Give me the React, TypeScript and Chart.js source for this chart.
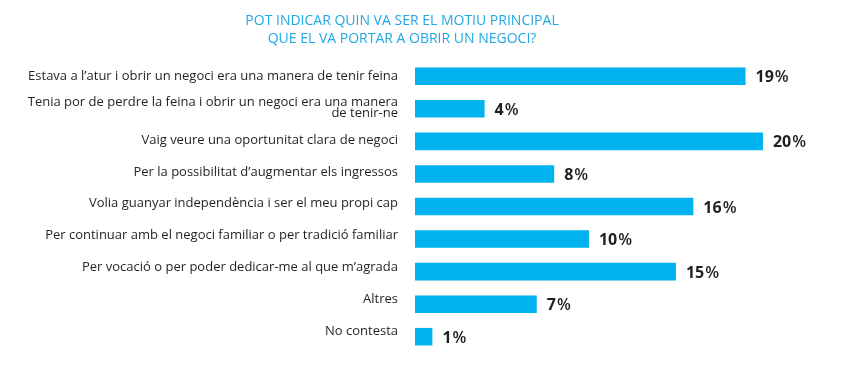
import React, { useEffect, useRef } from 'react';
import { Chart, registerables } from 'chart.js';

Chart.register(...registerables);

const titleLines: string[] = [
  'POT INDICAR QUIN VA SER EL MOTIU PRINCIPAL',
  'QUE EL VA PORTAR A OBRIR UN NEGOCI?',
];

const categories: (string | string[])[] = [
  'Estava a l’atur i obrir un negoci era una manera de tenir feina',
  ['Tenia por de perdre la feina i obrir un negoci era una manera', 'de tenir-ne'],
  'Vaig veure una oportunitat clara de negoci',
  'Per la possibilitat d’augmentar els ingressos',
  'Volia guanyar independència i ser el meu propi cap',
  'Per continuar amb el negoci familiar o per tradició familiar',
  'Per vocació o per poder dedicar-me al que m’agrada',
  'Altres',
  'No contesta',
];

const values: number[] = [19, 4, 20, 8, 16, 10, 15, 7, 1];

const FONT = '"Open Sans", "Noto Sans", sans-serif';

const valueLabels = {
  id: 'valueLabels',
  afterDatasetsDraw(chart: any) {
    const ctx = chart.ctx as CanvasRenderingContext2D;
    const meta = chart.getDatasetMeta(0);
    ctx.save();
    ctx.fillStyle = '#231f20';
    ctx.textBaseline = 'middle';
    ctx.textAlign = 'left';
    meta.data.forEach((bar: any, i: number) => {
      const num = String(values[i]);
      const x = bar.x + 10;
      const y = bar.y + 1.5;
      ctx.font = `bold 16px ${FONT}`;
      ctx.fillText(num, x, y);
      const w = ctx.measureText(num).width;
      ctx.font = `600 16px ${FONT}`;
      ctx.fillText('%', x + w + 1, y);
    });
    ctx.restore();
  },
};

// The category labels in the original sit on a slightly tighter pitch than the bars.
const labelAxisFit = {
  id: 'labelAxisFit',
  afterLayout(chart: any) {
    const s = chart.scales.yl;
    if (!s) return;
    s.top = s.top + 0.3;
    s.bottom = s.bottom - 5.8;
    s.configure();
  },
};

export default function App() {
  const ref = useRef<HTMLCanvasElement | null>(null);

  useEffect(() => {
    if (!ref.current) return;
    const chart = new Chart(ref.current, {
      type: 'bar',
      data: {
        labels: categories,
        datasets: [
          {
            data: values,
            backgroundColor: '#00b3ef',
            borderWidth: 0,
            categoryPercentage: 1,
            barPercentage: 0.54,
            yAxisID: 'y',
          },
        ],
      },
      options: {
        indexAxis: 'y',
        responsive: false,
        animation: false,
        layout: { padding: { left: 0, right: 45, top: 0, bottom: 17 } },
        plugins: {
          legend: { display: false },
          tooltip: { enabled: false },
          title: {
            display: true,
            text: titleLines,
            color: '#1fa9e4',
            font: { family: FONT, size: 14, weight: 'normal', lineHeight: '18px' },
            padding: { top: 12, bottom: 12 },
          },
        },
        scales: {
          x: {
            display: false,
            min: 0,
            max: 22.36,
          },
          y: {
            type: 'category',
            display: false,
            offset: true,
          },
          yl: {
            type: 'category',
            axis: 'y',
            position: 'left',
            labels: categories as any,
            offset: true,
            grid: { display: false, drawTicks: false },
            border: { display: false },
            afterFit: (scale: any) => {
              scale.width = 415;
              scale.paddingTop = 0;
              scale.paddingBottom = 0;
            },
            ticks: {
              padding: 17,
              color: '#231f20',
              autoSkip: false,
              font: { family: FONT, size: 13, lineHeight: 0.82 },
            },
          },
        },
      },
      plugins: [valueLabels, labelAxisFit],
    });
    return () => chart.destroy();
  }, []);

  return (
    <div style={{ position: 'absolute', left: 0, top: 0, width: 849, height: 370 }}>
      <canvas ref={ref} width={849} height={370} style={{ display: 'block' }} />
    </div>
  );
}
